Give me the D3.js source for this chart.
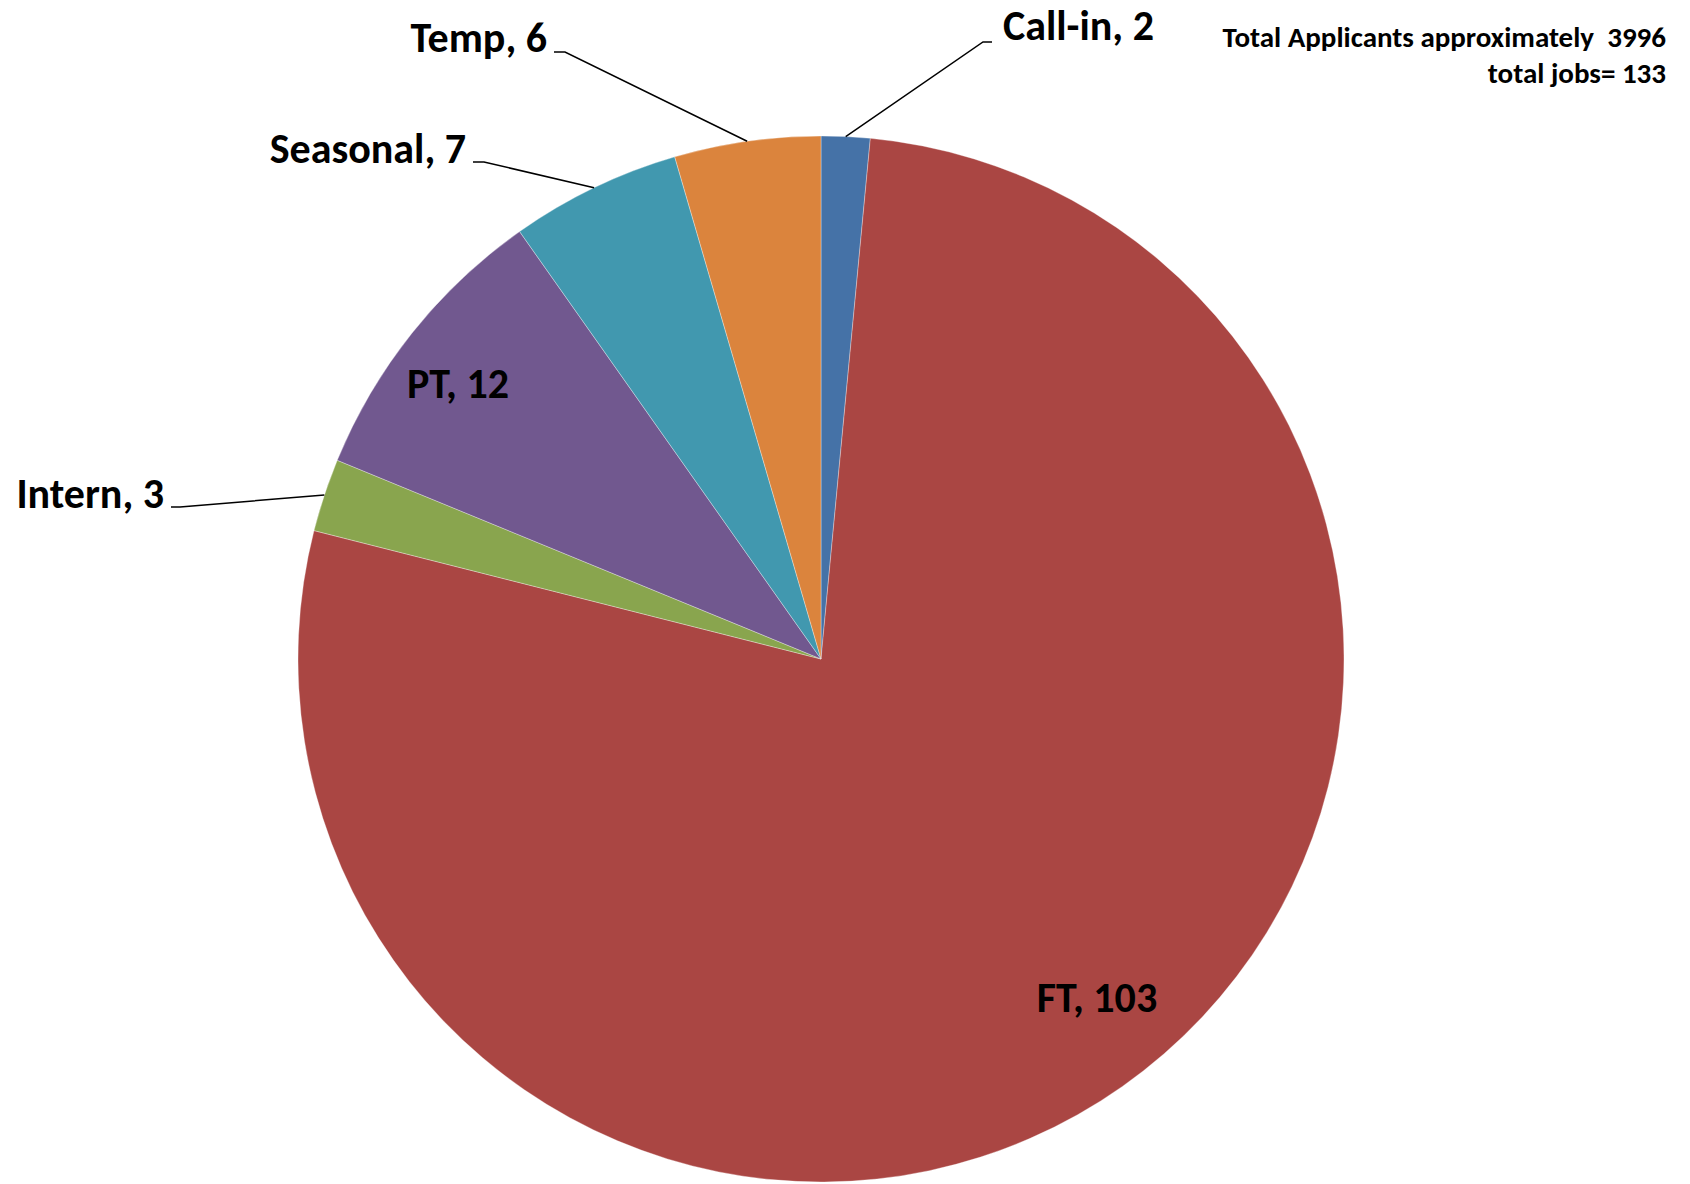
<!DOCTYPE html>
<html>
<head>
<meta charset="utf-8">
<script src="https://cdn.jsdelivr.net/npm/d3@7"></script>
<style>
  body { margin: 0; background: #fff; }
  svg { display: block; font-family: Carlito, Calibri, "Open Sans", sans-serif; }
</style>
</head>
<body>
<div id="chart"></div>
<script>
// job types, clockwise from 12 o'clock
const categories = ["Call-in", "FT", "Intern", "PT", "Seasonal", "Temp"];
const jobCounts = [2, 103, 3, 12, 7, 6];
const sliceColors = ["#4572A7", "#AA4643", "#89A54E", "#71588F", "#4198AF", "#DB843D"];
const noteLines = ["Total Applicants approximately  3996", "total jobs= 133"];

// where excel put each data label (baseline), with leader elbows for the outside ones
const labelLayout = {
  "Call-in": { x: 1003, y: 40, anchor: "start", elbow: [983, 42], tail: 992 },
  "FT": { x: 1097, y: 1012, anchor: "middle" },
  "Intern": { x: 164, y: 508, anchor: "end", elbow: [180, 507], tail: 171 },
  "PT": { x: 458, y: 398, anchor: "middle" },
  "Seasonal": { x: 466, y: 163, anchor: "end", elbow: [484, 162], tail: 473 },
  "Temp": { x: 547, y: 52, anchor: "end", elbow: [565, 52], tail: 554 },
};

const width = 1690;
const height = 1184;
const cx = 821;
const cy = 659;
const radius = 523;

const data = categories.map((c, i) => ({ name: c, value: jobCounts[i] }));

const svg = d3
  .select("#chart")
  .append("svg")
  .attr("width", width)
  .attr("height", height);

const color = d3.scaleOrdinal().domain(categories).range(sliceColors);

const pie = d3
  .pie()
  .sort(null)
  .value((d) => d.value);

const arc = d3.arc().innerRadius(0).outerRadius(radius);
const edgeArc = d3.arc().innerRadius(radius).outerRadius(radius);

const g = svg.append("g").attr("transform", `translate(${cx},${cy})`);

const slices = pie(data);

g.selectAll("path.slice")
  .data(slices)
  .join("path")
  .attr("class", "slice")
  .attr("d", arc)
  .attr("fill", (d) => color(d.data.name))
  .attr("stroke", "#fff")
  .attr("stroke-opacity", 0.4)
  .attr("stroke-width", 0.8);

// leader lines
slices.forEach((d) => {
  const lay = labelLayout[d.data.name];
  if (!lay.elbow) return;
  const [sx, sy] = edgeArc.centroid(d);
  const pts = [
    [sx + cx, sy + cy],
    lay.elbow,
    [lay.tail, lay.elbow[1]],
  ];
  svg
    .append("path")
    .attr("d", d3.line()(pts))
    .attr("fill", "none")
    .attr("stroke", "#000")
    .attr("stroke-width", 1.5);
});

// data labels
svg
  .selectAll("text.lbl")
  .data(slices)
  .join("text")
  .attr("class", "lbl")
  .attr("x", (d) => labelLayout[d.data.name].x)
  .attr("y", (d) => labelLayout[d.data.name].y)
  .attr("text-anchor", (d) => labelLayout[d.data.name].anchor)
  .style("font-size", "42px")
  .style("font-weight", "bold")
  .attr("fill", "#000")
  .text((d) => `${d.data.name}, ${d.data.value}`);

// note in the top right corner
svg
  .selectAll("text.note")
  .data(noteLines)
  .join("text")
  .attr("class", "note")
  .attr("x", 1666)
  .attr("y", (d, i) => 47 + i * 36)
  .attr("text-anchor", "end")
  .style("font-size", "29px")
  .style("font-weight", "bold")
  .style("white-space", "pre")
  .attr("xml:space", "preserve")
  .text((d) => d);
</script>
</body>
</html>
